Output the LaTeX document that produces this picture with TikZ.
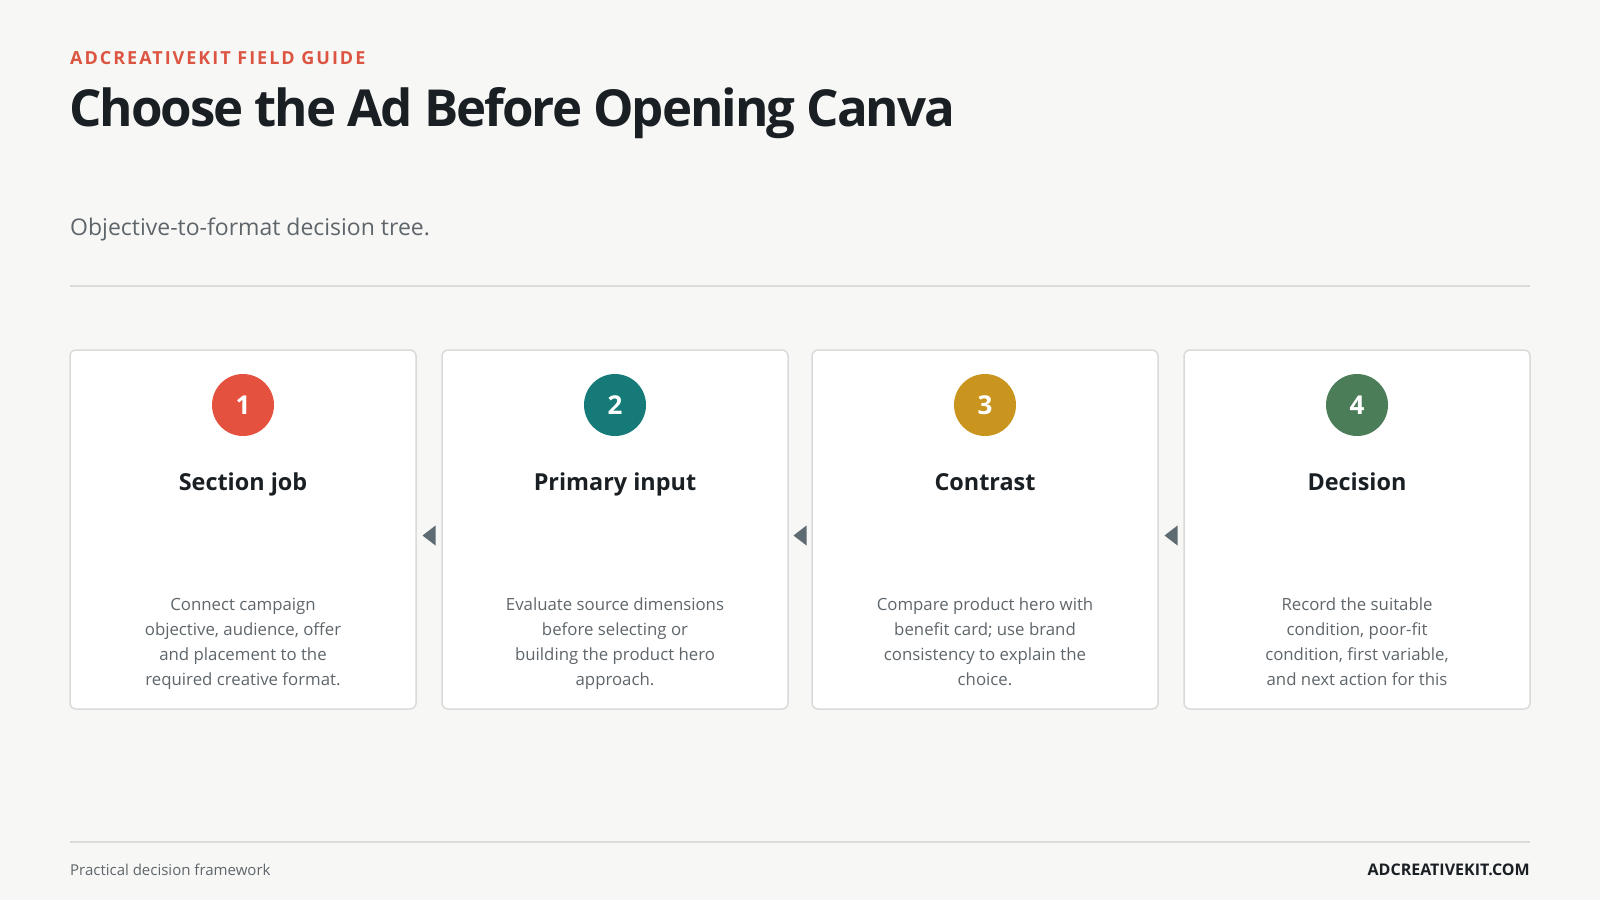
\documentclass[tikz,border=0pt]{standalone}
\usepackage{fontspec}
\setmainfont{Open Sans}
\usetikzlibrary{calc}

\definecolor{pagebg}{HTML}{F7F7F5}
\definecolor{inkdark}{HTML}{1A1F24}
\definecolor{inkgray}{HTML}{5F666B}
\definecolor{rulegray}{HTML}{DCDCDA}
\definecolor{cardline}{HTML}{DADADA}
\definecolor{arrowgray}{HTML}{5F6B73}
\definecolor{kickred}{HTML}{DC5542}
\definecolor{badgered}{HTML}{E4513F}
\definecolor{badgeteal}{HTML}{167B78}
\definecolor{badgegold}{HTML}{C9951F}
\definecolor{badgegreen}{HTML}{4B7D58}

\tikzset{
  card/.style={draw=cardline, line width=1.5pt, fill=white, rounded corners=6pt,
    minimum width=346pt, minimum height=359pt, inner sep=0pt},
  badge/.style={circle, minimum size=62pt, inner sep=0pt, text=white,
    font=\fontsize{26}{26}\selectfont\bfseries},
  cardhead/.style={anchor=base, text=inkdark, inner sep=0pt,
    font=\fontsize{23.4}{28}\selectfont\bfseries},
  cardbody/.style={anchor=base, align=center, text=inkgray, inner sep=0pt,
    font=\fontsize{16.8}{25}\selectfont},
  footnote/.style={anchor=base, inner sep=0pt, font=\fontsize{15}{18}\selectfont},
}

\begin{document}
\begin{tikzpicture}[x=1pt, y=-1pt]
% page
\fill[pagebg] (0,0) rectangle (1600,900);
\useasboundingbox (0,0) rectangle (1600,900);

% header
\node[anchor=base west, inner sep=0pt, text=kickred,
  font=\fontsize{18}{20}\selectfont\bfseries\addfontfeatures{LetterSpace=11}]
  (kicker) at (70,64) {ADCREATIVEKIT FIELD GUIDE};
\node[anchor=base west, inner sep=0pt, text=inkdark,
  font=\fontsize{51}{58}\selectfont\bfseries\addfontfeatures{LetterSpace=-4}]
  (title) at (69,126.5) {Choose the Ad Before Opening Canva};
\node[anchor=base west, inner sep=0pt, text=inkgray,
  font=\fontsize{23}{28}\selectfont]
  (subtitle) at (70,235) {Objective-to-format decision tree.};
\draw[rulegray, line width=1.5pt] (70,286) -- (1530,286);

% cards
\foreach \i/\x/\col/\head/\body in {
  1/243/badgered/Section job/{Connect campaign\\objective, audience, offer\\and placement to the\\required creative format.},
  2/615/badgeteal/Primary input/{Evaluate source dimensions\\before selecting or\\building the product hero\\approach.},
  3/985/badgegold/Contrast/{Compare product hero with\\benefit card; use brand\\consistency to explain the\\choice.},
  4/1357/badgegreen/Decision/{Record the suitable\\condition, poor-fit\\condition, first variable,\\and next action for this}} {
  \node[card] (card\i) at (\x,529.5) {};
  \node[badge, fill=\col] (badge\i) at (\x,405) {\i};
  \node[cardhead] (head\i) at (\x,490) {\head};
  \node[cardbody] (body\i) at (\x,685) {\body};
}

% arrows between cards
\foreach \a/\b in {1/2,2/3,3/4} {
  \coordinate (gap\a) at ($(card\a.east)!.5!(card\b.west)$);
  \fill[arrowgray] ([xshift=-6.5pt,yshift=-6pt]gap\a) -- ++(13,-10) -- ++(0,20) -- cycle;
}

% footer
\draw[rulegray, line width=1.5pt] (70,842) -- (1530,842);
\node[footnote, anchor=base west, text=inkgray] (footleft) at (70,875) {Practical decision framework};
\node[footnote, anchor=base east, text=inkdark, font=\fontsize{16}{18}\selectfont\bfseries]
  (footright) at (1530,875) {ADCREATIVEKIT.COM};
\end{tikzpicture}
\end{document}
